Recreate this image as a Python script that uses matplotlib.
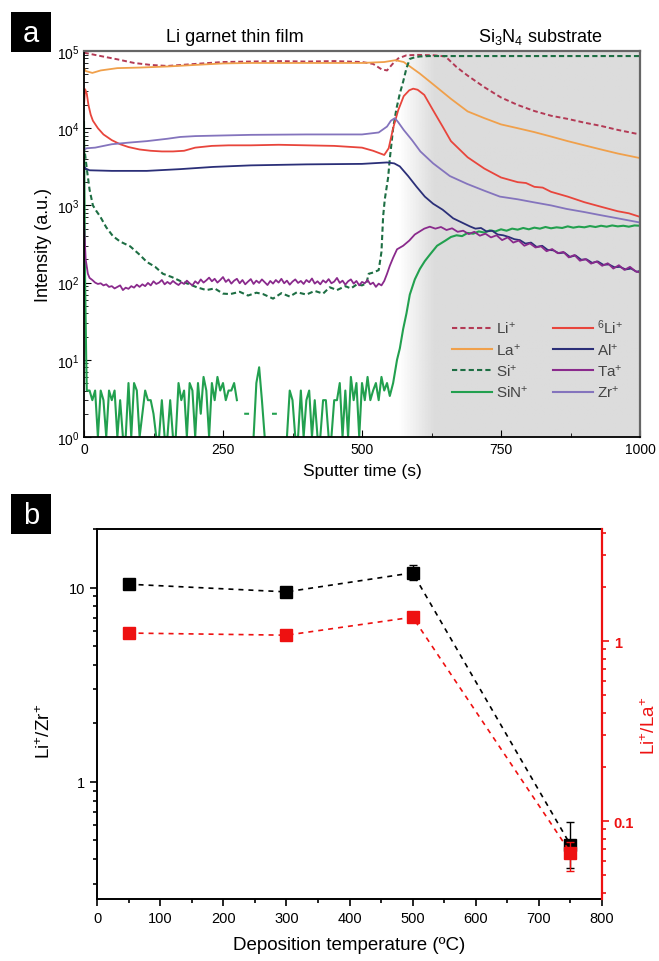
import numpy as np
import matplotlib
matplotlib.use("Agg")
from matplotlib import pyplot as plt
from matplotlib.patches import Rectangle
from matplotlib.ticker import (LogLocator, NullFormatter, FixedLocator,
                               FixedFormatter, MultipleLocator, LogFormatterMathtext)

plt.rcParams["font.family"] = ["Liberation Sans", "DejaVu Sans"]
plt.rcParams["mathtext.fontset"] = "custom"
plt.rcParams["mathtext.rm"] = "Liberation Sans"
plt.rcParams["mathtext.it"] = "Liberation Sans:italic"
plt.rcParams["mathtext.bf"] = "Liberation Sans:bold"

# ---- panel a : depth profiles ----
li_t = [0, 10, 30, 60, 90, 120, 150, 200, 250, 300, 350, 400, 450, 500, 520, 535, 545, 555,
        565, 580, 600, 630, 650, 670, 690, 720, 750, 780, 810, 840, 870, 900, 930, 960, 1000]
li_v = [9.5e4, 9.2e4, 8.6e4, 7.8e4, 7.0e4, 6.6e4, 6.4e4, 6.8e4, 7.2e4, 7.3e4, 7.4e4, 7.3e4,
        7.4e4, 7.2e4, 6.8e4, 5.8e4, 5.6e4, 6.8e4, 8.0e4, 8.8e4, 8.9e4, 8.8e4, 8.5e4, 6.2e4,
        4.8e4, 3.4e4, 2.5e4, 2.0e4, 1.67e4, 1.45e4, 1.32e4, 1.18e4, 1.07e4, 9.5e3, 8.3e3]

la_t = [0, 3, 15, 30, 60, 100, 150, 200, 250, 300, 350, 400, 450, 500, 540, 560, 575, 604,
        628, 660, 690, 720, 750, 780, 810, 840, 870, 900, 930, 960, 1000]
la_v = [6.0e4, 5.5e4, 5.2e4, 5.6e4, 6.0e4, 6.1e4, 6.3e4, 6.6e4, 6.9e4, 7.0e4, 7.0e4, 7.0e4,
        7.0e4, 7.0e4, 7.2e4, 7.6e4, 7.2e4, 5.1e4, 3.7e4, 2.4e4, 1.65e4, 1.35e4, 1.12e4, 1.0e4,
        8.9e3, 7.8e3, 6.8e3, 6.0e3, 5.3e3, 4.7e3, 4.1e3]

li6_t = [0, 2, 5, 8, 12, 16, 25, 35, 50, 65, 80, 100, 120, 140, 160, 180, 200, 230, 260, 300,
         350, 400, 450, 500, 520, 540, 548, 556, 565, 575, 585, 592, 600, 612, 628, 645, 660,
         690, 720, 750, 780, 795, 810, 825, 840, 870, 900, 930, 960, 980, 1000]
li6_v = [2.0e4, 3.2e4, 2.8e4, 2.0e4, 1.5e4, 1.25e4, 1.0e4, 8.3e3, 7.0e3, 6.2e3, 5.7e3, 5.3e3,
         5.1e3, 5.0e3, 5.0e3, 5.1e3, 5.6e3, 5.9e3, 6.0e3, 6.0e3, 6.1e3, 6.0e3, 5.9e3, 5.6e3,
         5.1e3, 4.5e3, 5.5e3, 1.0e4, 1.7e4, 2.6e4, 3.1e4, 3.25e4, 3.15e4, 2.7e4, 1.7e4, 1.05e4,
         6.8e3, 4.2e3, 3.0e3, 2.3e3, 2.0e3, 1.95e3, 1.74e3, 1.7e3, 1.5e3, 1.3e3, 1.1e3, 960,
         840, 790, 710]

zr_t = [0, 5, 20, 50, 80, 113, 150, 173, 200, 232, 300, 400, 500, 530, 545, 552, 559, 565,
        575, 590, 605, 628, 658, 689, 720, 748, 780, 808, 840, 868, 900, 928, 960, 1000]
zr_v = [5.3e3, 5.5e3, 5.6e3, 6.2e3, 6.5e3, 6.8e3, 7.3e3, 7.7e3, 7.9e3, 8.0e3, 8.2e3, 8.3e3,
        8.3e3, 8.8e3, 1.05e4, 1.25e4, 1.35e4, 1.2e4, 9.5e3, 7.0e3, 5.0e3, 3.5e3, 2.4e3, 1.9e3,
        1.55e3, 1.3e3, 1.2e3, 1.1e3, 1.0e3, 900, 820, 750, 680, 600]

al_t = [0, 3, 10, 50, 113, 173, 232, 300, 400, 500, 545, 558, 568, 583, 598, 613, 628, 645,
        664, 694, 704, 714, 724, 734, 744, 754, 764, 774, 784, 794, 804, 814, 824, 834, 844,
        854, 864, 874, 884, 894, 904, 914, 924, 934, 944, 954, 964, 974, 984, 994, 1000]
al_v = [3.2e3, 3.0e3, 2.85e3, 2.8e3, 2.8e3, 2.95e3, 3.15e3, 3.3e3, 3.4e3, 3.45e3, 3.6e3,
        3.5e3, 3.2e3, 2.4e3, 1.75e3, 1.3e3, 1.05e3, 880, 680, 535, 500, 510, 460, 470, 420,
        410, 390, 365, 355, 320, 330, 290, 300, 265, 262, 240, 245, 215, 225, 198, 200, 180,
        188, 170, 172, 158, 160, 148, 152, 138, 142]

ta_t = [0, 3, 7] + list(range(10, 550, 5)) + [550, 556, 563, 574, 585, 595, 604, 612, 622,
        632, 642, 652, 662, 672, 682, 692, 702, 712, 722, 732, 742, 752, 762, 772, 782, 792,
        802, 812, 822, 832, 842, 852, 862, 872, 882, 892, 902, 912, 922, 932, 942, 952, 962,
        972, 982, 992, 1000]
ta_v = [600, 200, 130,
        115, 108, 100, 96, 98, 92, 95, 88, 90, 84, 88, 92, 80, 86, 83, 90, 86, 94, 88, 95,
        90, 99, 92, 104, 96, 100, 108, 95, 102, 96, 105, 98, 93, 101, 96, 106, 98, 92, 104,
        97, 110, 100, 107, 116, 104, 112, 100, 108, 118, 102, 110, 97, 106, 112, 98, 108, 95,
        103, 111, 96, 106, 99, 110, 101, 93, 105, 97, 108, 100, 112, 98, 106, 94, 103, 110,
        99, 105, 96, 108, 101, 113, 97, 104, 95, 107, 100, 111, 98, 103, 115, 99, 106, 94,
        104, 110, 97, 105, 92, 102, 98, 108, 95, 100, 88, 97, 92, 105, 130,
        165, 210, 270, 300, 350, 420, 460, 500, 530, 500, 525, 480, 505, 455, 470, 425, 455,
        405, 430, 385, 410, 355, 385, 330, 350, 300, 322, 285, 295, 255, 272, 240, 250, 212,
        228, 192, 202, 176, 188, 165, 178, 152, 168, 146, 160, 140, 135]

si_t = [0, 5, 10, 16, 22, 29, 40, 52, 65, 83, 100, 113, 128, 142, 158, 173, 188, 203, 220,
        235, 250, 263, 280, 295, 310, 322, 340, 355, 370, 383, 400, 415, 430, 442, 455, 470,
        480, 491, 500, 508, 512, 520, 530, 535, 538, 541, 547, 550, 556, 562, 568, 574, 580,
        586, 595, 604, 620, 700, 800, 900, 1000]
si_v = [6e3, 3e3, 1.6e3, 1.0e3, 850, 720, 520, 400, 340, 295, 230, 185, 160, 130, 118, 105,
        96, 87, 80, 84, 72, 71, 76, 68, 74, 71, 62, 73, 66, 75, 70, 78, 72, 87, 80, 90, 84, 95,
        92, 98, 130, 135, 145, 250, 720, 1.2e3, 2.3e3, 4.0e3, 1.0e4, 1.8e4, 2.8e4, 4.0e4,
        6.0e4, 7.9e4, 8.3e4, 8.5e4, 8.6e4, 8.6e4, 8.6e4, 8.6e4, 8.6e4]

nan = np.nan
sin_t = [0, 2, 4] + list(range(5, 550, 5)) + [550, 556, 563, 568, 574, 580, 586, 595, 604,
         613, 622, 635, 650, 660, 670, 680, 690, 700, 710, 720, 730, 740, 750, 760, 770, 780,
         790, 800, 810, 820, 830, 840, 850, 860, 870, 880, 890, 900, 910, 920, 930, 940, 950,
         960, 970, 980, 990, 1000]
sin_v = [1.2e4, 100, 10,
         4, 4, 3, 4, 1, 4, 3, 1, 4, 3, 4, 1, 3, 1, 1, 5, 1, 5, 4, 1, 2, 4, 3, 3, 2, 1, 1, 3,
         1, 1, 3, 1, 1, 5, 3, 4, 1, 5, 4, 1, 5, 2, 6, 4, 1, 5, 3, 6, 4, 5, 3, 4, 4, 5, 3, nan,
         nan, 2, 2, nan, 1, 5, 8, 3, 1, nan, nan, 2, 2, nan, nan, nan, 1, 4, 3, 1, 1, 4, 1, 3,
         4, 1, 3, 1, 1, 3, 3, 1, 1, 3, 3, 5, 1, 4, 1, 6, 3, 5, 1, 5, 3, 6, 3, 4, 5, 3, 6, 4, 5,
         3.4, 5, 10, 14, 25, 40, 70, 110, 150, 190, 230, 300, 350, 390, 410, 400, 440, 430,
         460, 445, 475, 460, 490, 470, 500, 485, 510, 490, 515, 500, 525, 505, 520, 510, 535,
         515, 530, 520, 540, 525, 545, 530, 550, 535, 545, 530, 550, 545]

# ---- panel b : intensity ratios ----
dep_temp = [50, 300, 500, 750]
li_zr = [10.4, 9.5, 11.9, 0.475]
li_zr_err_lo = [0, 0, 1.0, 0.115]
li_zr_err_hi = [0, 0, 1.2, 0.145]
li_la = [1.11, 1.08, 1.36, 0.067]
li_la_err_lo = [0, 0, 0, 0.014]
li_la_err_hi = [0, 0, 0, 0.010]

fig = plt.figure(figsize=(6.59, 9.62), dpi=100)

# panel a
ax = fig.add_axes([84 / 659, 1 - 438 / 962, 556 / 659, 386 / 962])
ax.set_yscale("log")
ax.set_xlim(0, 1000)
ax.set_ylim(1, 1e5)
ax.autoscale(False)

# grey substrate region with soft left edge
grad_t = np.linspace(565, 1000, 400)
shade = 1 - 0.14 * np.clip((grad_t - 565) / 65, 0, 1)
ax.imshow(np.tile(shade, (2, 1)), extent=(565, 1000, 0, 1), transform=ax.get_xaxis_transform(),
          aspect="auto", cmap="gray", vmin=0, vmax=1, zorder=0, interpolation="bilinear")

lw = 1.3
ax.plot(li_t, li_v, color="#b33a55", ls=(0, (2.5, 1.5)), lw=1.4, label="Li$^{+}$")
ax.plot(la_t, la_v, color="#f0a04b", lw=lw, label="La$^{+}$")
ax.plot(si_t, si_v, color="#1d6e43", ls=(0, (2.5, 1.5)), lw=1.5, label="Si$^{+}$")
ax.plot(sin_t, sin_v, color="#22a04f", lw=1.5, label="SiN$^{+}$")
ax.plot(li6_t, li6_v, color="#e8453c", lw=lw, label="$^{6}$Li$^{+}$")
ax.plot(al_t, al_v, color="#2b2f78", lw=lw, label="Al$^{+}$")
ax.plot(ta_t, ta_v, color="#8a2a8c", lw=lw, label="Ta$^{+}$")
ax.plot(zr_t, zr_v, color="#8474bd", lw=lw, label="Zr$^{+}$")

leg = ax.legend(ncol=2, loc="lower right", bbox_to_anchor=(0.995, 0.06), frameon=False,
                fontsize=11, handlelength=2.6, handletextpad=0.3, columnspacing=1.6,
                labelspacing=0.35)
for line in leg.get_lines():
    line.set_linewidth(1.5)
for txt in leg.get_texts():
    txt.set_color("#444444")

ax.xaxis.set_major_locator(FixedLocator([0, 250, 500, 750, 1000]))
ax.xaxis.set_minor_locator(MultipleLocator(125))
ax.yaxis.set_major_locator(LogLocator(base=10, numticks=10))
ax.yaxis.set_major_formatter(LogFormatterMathtext())
ax.yaxis.set_minor_locator(LogLocator(base=10, subs=np.arange(2, 10), numticks=20))
ax.yaxis.set_minor_formatter(NullFormatter())
ax.tick_params(which="both", direction="in", labelsize=10, top=False, right=False)
ax.tick_params(which="major", length=5)
ax.tick_params(which="minor", length=3)
for side in ["top", "right"]:
    ax.spines[side].set_color("#666666")
    ax.spines[side].set_linewidth(1.6)
for side in ["left", "bottom"]:
    ax.spines[side].set_linewidth(1.3)
ax.set_xlabel("Sputter time (s)", fontsize=12.5, labelpad=5)
ax.set_ylabel("Intensity (a.u.)", fontsize=13, labelpad=3)

fig.text(235 / 659, 1 - 37 / 962, "Li garnet thin film", fontsize=13, ha="center", va="center")
fig.text(540 / 659, 1 - 37 / 962, "Si$_{3}$N$_{4}$ substrate", fontsize=13, ha="center",
         va="center")

# panel b
axb = fig.add_axes([97 / 659, 1 - 900 / 962, 505 / 659, 370 / 962])
axb.set_yscale("log")
axb.set_xlim(0, 800)
axb.set_ylim(0.25, 20)
axb.errorbar(dep_temp, li_zr, yerr=[li_zr_err_lo, li_zr_err_hi], color="black", ls=(0, (3, 3)),
             lw=1.2, marker="s", markersize=8, capsize=3, elinewidth=1, capthick=1)
axb.xaxis.set_major_locator(MultipleLocator(100))
axb.xaxis.set_minor_locator(MultipleLocator(50))
axb.yaxis.set_major_locator(FixedLocator([1, 10]))
axb.yaxis.set_major_formatter(FixedFormatter(["1", "10"]))
axb.yaxis.set_minor_locator(LogLocator(base=10, subs=np.arange(2, 10), numticks=20))
axb.yaxis.set_minor_formatter(NullFormatter())
axb.tick_params(which="both", direction="out", labelsize=10.5, top=False, right=False, width=1.2)
axb.tick_params(which="major", length=5)
axb.tick_params(which="minor", length=3)
for side in ["left", "bottom", "top"]:
    axb.spines[side].set_linewidth(1.4)
axb.spines["right"].set_visible(False)
axb.set_xlabel("Deposition temperature (ºC)", fontsize=13.5, labelpad=8)
axb.set_ylabel("Li$^{+}$/Zr$^{+}$", fontsize=13.5)
axb.yaxis.set_label_coords(-0.085, 0.455)

axr = axb.twinx()
axr.set_yscale("log")
axr.set_ylim(0.037, 4.2)
axr.errorbar(dep_temp, li_la, yerr=[li_la_err_lo, li_la_err_hi], color="#ee1111", ls=(0, (3, 3)),
             lw=1.2, marker="s", markersize=8, capsize=3, elinewidth=1, capthick=1)
axr.yaxis.set_major_locator(FixedLocator([0.1, 1]))
axr.yaxis.set_major_formatter(FixedFormatter(["0.1", "1"]))
axr.yaxis.set_minor_locator(LogLocator(base=10, subs=np.arange(2, 10), numticks=20))
axr.yaxis.set_minor_formatter(NullFormatter())
axr.tick_params(which="both", direction="out", colors="#ee1111", labelsize=10.5, width=1.2)
axr.tick_params(which="major", length=5)
axr.tick_params(which="minor", length=3)
for lab in axr.get_yticklabels():
    lab.set_fontweight("bold")
for side in ["left", "bottom", "top"]:
    axr.spines[side].set_visible(False)
axr.spines["right"].set_color("#ee1111")
axr.spines["right"].set_linewidth(1.6)
axr.set_ylabel("Li$^{+}$/La$^{+}$", fontsize=13.5, color="#ee1111")
axr.yaxis.set_label_coords(1.075, 0.47)

# panel letters
for letter, y0 in [("a", 13), ("b", 495)]:
    fig.patches.append(Rectangle((11 / 659, 1 - (y0 + 40) / 962), 40 / 659, 40 / 962,
                                 transform=fig.transFigure, facecolor="black", edgecolor="none"))
    fig.text(31 / 659, 1 - (y0 + 21) / 962, letter, color="white", fontsize=21, ha="center",
             va="center")

fig.savefig("out.png", dpi=100)
